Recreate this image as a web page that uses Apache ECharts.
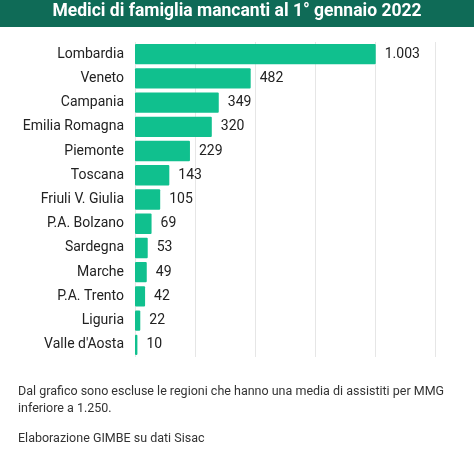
<!DOCTYPE html><html><head><meta charset="utf-8">
<script src="https://cdn.jsdelivr.net/npm/echarts@6/dist/echarts.min.js"></script>
<style>body{margin:0;background:#fff}#c{width:474px;height:468px}</style></head><body><div id="c"></div>
<script>
const categories=["Lombardia","Veneto","Campania","Emilia Romagna","Piemonte","Toscana","Friuli V. Giulia","P.A. Bolzano","Sardegna","Marche","P.A. Trento","Liguria","Valle d'Aosta"];
const values=[1003,482,349,320,229,143,105,69,53,49,42,22,10];
const ch=echarts.init(document.getElementById('c'));
const F='Roboto';
ch.setOption({
 animation:false,
 graphic:[
  {type:'rect',shape:{x:0,y:0,width:474,height:27},style:{fill:'#0f6b57'}},
  {type:'text',left:'center',top:3,style:{text:'Medici di famiglia mancanti al 1° gennaio 2022',fill:'#fff',font:'bold 17.5px Roboto'}},
  {type:'text',left:18,top:383,style:{text:"Dal grafico sono escluse le regioni che hanno una media di assistiti per MMG\ninferiore a 1.250.",fill:'#333',font:'12.5px Roboto',lineHeight:17}},
  {type:'text',left:18,top:432,style:{text:'Elaborazione GIMBE su dati Sisac',fill:'#333',font:'12.5px Roboto'}}
 ],
 grid:{left:135,width:300,top:42,height:315},
 xAxis:{type:'value',min:0,max:1250,interval:250,axisLabel:{show:false},axisLine:{show:false},axisTick:{show:false},splitLine:{lineStyle:{color:'#e6e6e6'}}},
 yAxis:{type:'category',inverse:true,data:categories,axisLine:{show:false},axisTick:{show:false},axisLabel:{color:'#222',fontSize:14,fontFamily:F,margin:11}},
 series:[{type:'bar',data:values,barWidth:'84%',itemStyle:{color:'#10c08e',borderRadius:1},
  label:{show:true,position:'right',distance:9,color:'#222',fontSize:14,fontFamily:F,formatter:p=>p.value.toLocaleString('it-IT')}}]
});
</script></body></html>
